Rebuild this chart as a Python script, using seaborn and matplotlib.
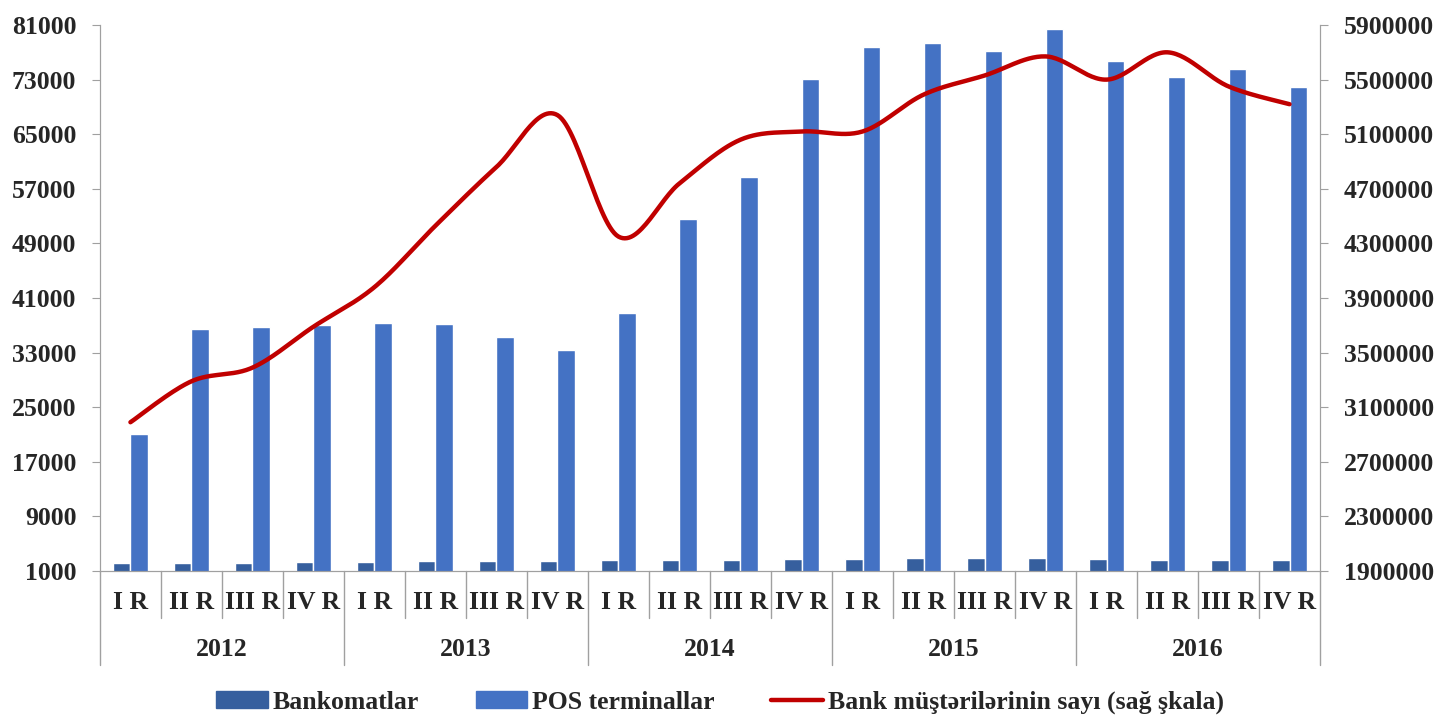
import numpy as np
import pandas as pd
import matplotlib
matplotlib.use('Agg')
import matplotlib.pyplot as plt
import seaborn as sns
from matplotlib.patches import Patch
from matplotlib.lines import Line2D
from matplotlib.ticker import FuncFormatter

years = ['2012', '2013', '2014', '2015', '2016']
quarters = ['I R', 'II R', 'III R', 'IV R']

bankomatlar = [2170, 2200, 2230, 2300, 2350, 2450, 2500, 2500, 2550, 2600,
               2650, 2700, 2800, 2850, 2900, 2850, 2700, 2650, 2650, 2600]
pos_terminallar = [21070, 36450, 36750, 37040, 37330, 37190, 35280, 33380, 38800, 52570,
                   58720, 73080, 77770, 78350, 77180, 80400, 75700, 73370, 74540, 71900]
musteriler = [2990000, 3290000, 3390000, 3690000, 3980000, 4430000, 4860000, 5240000, 4350000, 4740000,
              5060000, 5120000, 5120000, 5390000, 5530000, 5670000, 5500000, 5700000, 5450000, 5320000]

dark_blue = '#365F9E'
light_blue = '#4472C4'
red = '#C00000'
fs = 18.5

sns.set_style('white')
plt.rcParams['font.family'] = ['Liberation Serif', 'DejaVu Serif']
plt.rcParams['font.weight'] = 'bold'

labels = [f'{y} {q}' for y in years for q in quarters]
df = pd.DataFrame({
    'period': labels * 2,
    'value': bankomatlar + pos_terminallar,
    'series': ['Bankomatlar'] * 20 + ['POS terminallar'] * 20,
})

fig = plt.figure(figsize=(14.4, 7.17), dpi=100)
ax = fig.add_axes([0.0694, 0.2036, 0.8473, 0.7615])

sns.barplot(data=df, x='period', y='value', hue='series', order=labels,
            palette=[dark_blue, light_blue], width=0.58, gap=0, ax=ax,
            legend=False, saturation=1)

ax.set_ylim(1000, 81000)
ax.set_yticks(np.arange(1000, 81001, 8000))
ax.set_xlim(-0.5, 19.5)
ax.set_xlabel('')
ax.set_ylabel('')
ax.set_xticks([])
ax.tick_params(axis='y', labelsize=fs, length=6, color='#A0A0A0', direction='out', pad=11)
for t in ax.get_yticklabels():
    t.set_fontweight('bold')
for s in ['left', 'bottom', 'right']:
    ax.spines[s].set_color('#A0A0A0')
ax.spines['top'].set_visible(False)

# smooth line like Excel (cardinal bezier through points)
x = np.arange(len(musteriler), dtype=float)
y = np.array(musteriler, dtype=float)
px, py = [], []
n = len(x)
for i in range(n - 1):
    p0 = np.array([x[max(i - 1, 0)], y[max(i - 1, 0)]])
    p1 = np.array([x[i], y[i]])
    p2 = np.array([x[i + 1], y[i + 1]])
    p3 = np.array([x[min(i + 2, n - 1)], y[min(i + 2, n - 1)]])
    c1 = p1 + (p2 - p0) / 6
    c2 = p2 - (p3 - p1) / 6
    t = np.linspace(0, 1, 30)[:, None]
    seg = (1 - t) ** 3 * p1 + 3 * (1 - t) ** 2 * t * c1 + 3 * (1 - t) * t ** 2 * c2 + t ** 3 * p2
    px.extend(seg[:, 0])
    py.extend(seg[:, 1])

ax2 = ax.twinx()
sns.lineplot(x=px, y=py, sort=False, estimator=None, color=red, linewidth=3.2, ax=ax2)
ax2.set_ylim(1900000, 5900000)
ax2.set_yticks(np.arange(1900000, 5900001, 400000))
ax2.yaxis.set_major_formatter(FuncFormatter(lambda v, p: f'{int(round(v))}'))
ax2.tick_params(axis='y', labelsize=fs, length=6, color='#A0A0A0', direction='out', pad=11)
for t in ax2.get_yticklabels():
    t.set_fontweight('bold')
for s in ['left', 'bottom', 'right']:
    ax2.spines[s].set_color('#A0A0A0')
ax2.spines['top'].set_visible(False)

# two-level category axis
tr = ax.get_xaxis_transform()
for i in range(21):
    depth = -0.172 if i % 4 == 0 else -0.086
    ax.plot([i - 0.5, i - 0.5], [0, depth], transform=tr, color='#A0A0A0',
            linewidth=1, clip_on=False)
for i, q in enumerate(quarters * len(years)):
    ax.text(i, -0.058, q, transform=tr, ha='center', va='center',
            fontsize=fs, fontweight='bold')
for j, yr in enumerate(years):
    ax.text(j * 4 + 1.5, -0.143, yr, transform=tr, ha='center', va='center',
            fontsize=fs, fontweight='bold')

handles = [Patch(color=dark_blue, label='Bankomatlar'),
           Patch(color=light_blue, label='POS terminallar'),
           Line2D([0], [0], color=red, linewidth=3.2, label='Bank müştərilərinin sayı (sağ şkala)')]
fig.legend(handles=handles, loc='lower center', bbox_to_anchor=(0.5, -0.028), ncol=3,
           frameon=False, prop={'size': fs, 'weight': 'bold'}, columnspacing=2.2,
           handlelength=2.0, handleheight=0.6, handletextpad=0.2)

fig.savefig('out.png', dpi=100)
